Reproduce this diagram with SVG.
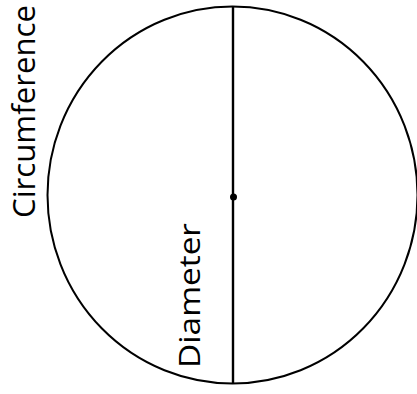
<svg xmlns="http://www.w3.org/2000/svg" width="417" height="394" viewBox="0 0 417 394">
<style>
.lbl{font-family:"Open Sans","Liberation Sans",sans-serif;fill:#000}
.ln{stroke:#000;fill:none}
</style>
<rect width="417" height="394" fill="#fff"/>
<g id="circle">
<ellipse class="ln" cx="232.5" cy="195" rx="185" ry="188.5" stroke-width="2"/>
</g>
<g id="connectors">
<line class="ln" x1="233" y1="6" x2="233" y2="383" stroke-width="2.4"/>
</g>
<g id="center">
<circle cx="233.5" cy="197" r="3.5" fill="#000"/>
</g>
<g id="label-circumference">
<text class="lbl" transform="translate(35,218) rotate(-90)" font-size="31" textLength="213" lengthAdjust="spacingAndGlyphs">Circumference</text>
</g>
<g id="label-diameter">
<text class="lbl" transform="translate(200,368) rotate(-90)" font-size="29" textLength="145" lengthAdjust="spacingAndGlyphs">Diameter</text>
</g>
</svg>
